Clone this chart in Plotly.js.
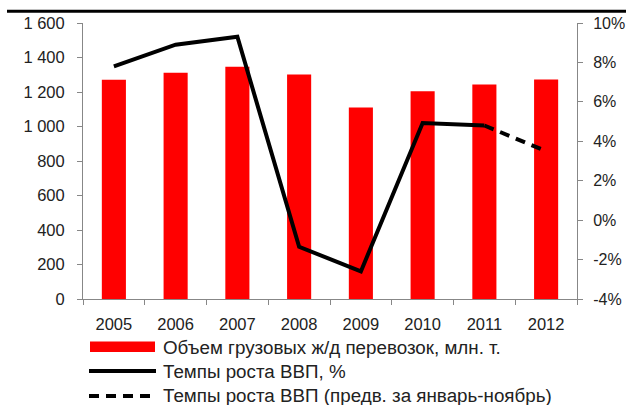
<!DOCTYPE html>
<html>
<head>
<meta charset="utf-8">
<script src="https://cdn.plot.ly/plotly-3.0.1.min.js"></script>
<style>html,body{margin:0;padding:0;background:#fff;}#chart{width:626px;height:405px;}</style>
</head>
<body>
<div id="chart"></div>
<script>
// Data
const years = ["2005","2006","2007","2008","2009","2010","2011","2012"];
const freightVolume = [1271, 1312, 1346, 1302, 1110, 1204, 1243, 1273];
const gdpYears = ["2005","2006","2007","2008","2009","2010","2011"];
const gdpGrowth = [7.8, 8.9, 9.3, -1.35, -2.6, 4.93, 4.8];
const prelimYears = ["2011","2012"];
const gdpPrelim = [4.8, 3.5];
const leftTicks = [0, 200, 400, 600, 800, 1000, 1200, 1400, 1600];
const leftTickText = ["0","200","400","600","800","1 000","1 200","1 400","1 600"];
const rightTicks = [-4, -2, 0, 2, 4, 6, 8, 10];
const rightTickText = ["-4%","-2%","0%","2%","4%","6%","8%","10%"];
const legendLabels = ["Объем грузовых ж/д перевозок, млн. т.", "Темпы роста ВВП, %", "Темпы роста ВВП (предв. за январь-ноябрь)"];

const font = {family: "Liberation Sans, Arial, sans-serif", size: 16.5, color: "#222"};
const rightFont = {family: "Liberation Sans, Arial, sans-serif", size: 16, color: "#222"};
const legendFont = {family: "Liberation Sans, Arial, sans-serif", size: 18.8, color: "#222"};
const axisColor = "#878787";

const traces = [
  {type: "bar", x: years, y: freightVolume, marker: {color: "#ff0000"}, width: 0.39, name: legendLabels[0], showlegend: false, hoverinfo: "x+y"},
  {type: "scatter", mode: "lines", x: gdpYears, y: gdpGrowth, yaxis: "y2", line: {color: "#000", width: 4}, name: legendLabels[1], showlegend: false},
  {type: "scatter", mode: "lines", x: prelimYears, y: gdpPrelim, yaxis: "y2", line: {color: "#000", width: 4, dash: "10px,7px"}, name: legendLabels[2], showlegend: false}
];

function py(p) { return (299.3 - p) / 276.6; }
function px(p) { return (p - 83) / 494; }

const rows = [347.5, 371.5, 396.5];
const shapes = [
  {type: "line", xref: "paper", yref: "paper", x0: px(7), x1: px(630), y0: py(10.8), y1: py(10.8), line: {color: "#000", width: 3}},
  {type: "rect", xref: "paper", yref: "paper", x0: px(90), x1: px(155), y0: py(342), y1: py(352.5), fillcolor: "#ff0000", line: {width: 0}},
  {type: "line", xref: "paper", yref: "paper", x0: px(89), x1: px(156), y0: py(rows[1]), y1: py(rows[1]), line: {color: "#000", width: 4}},
  {type: "line", xref: "paper", yref: "paper", x0: px(89), x1: px(156), y0: py(rows[2]), y1: py(rows[2]), line: {color: "#000", width: 4, dash: "10px,7px"}}
];
const annotations = legendLabels.map((t, i) => ({
  xref: "paper", yref: "paper", x: px(161), y: py(rows[i]), xanchor: "left", yanchor: "middle",
  text: t, showarrow: false, font: legendFont
}));

const layout = {
  width: 626, height: 405,
  margin: {l: 83, r: 49, t: 23, b: 106},
  paper_bgcolor: "#fff", plot_bgcolor: "#fff",
  font: font,
  showlegend: false,
  xaxis: {type: "category", showline: true, linecolor: axisColor, linewidth: 1, ticks: "outside", tickson: "boundaries", ticklen: 5, tickcolor: axisColor, showgrid: false, tickfont: font, ticklabelstandoff: 10},
  yaxis: {range: [0, 1600], tickvals: leftTicks, ticktext: leftTickText, showline: true, linecolor: axisColor, ticks: "outside", ticklen: 5, tickcolor: axisColor, showgrid: false, zeroline: false, tickfont: font, ticklabelstandoff: 9},
  yaxis2: {overlaying: "y", side: "right", range: [-4, 10], tickvals: rightTicks, ticktext: rightTickText, showline: true, linecolor: axisColor, ticks: "outside", ticklen: 5, tickcolor: axisColor, showgrid: false, zeroline: false, tickfont: rightFont, ticklabelstandoff: 7},
  shapes: shapes,
  annotations: annotations
};

Plotly.newPlot("chart", traces, layout, {displayModeBar: false, staticPlot: true});
</script>
</body>
</html>
